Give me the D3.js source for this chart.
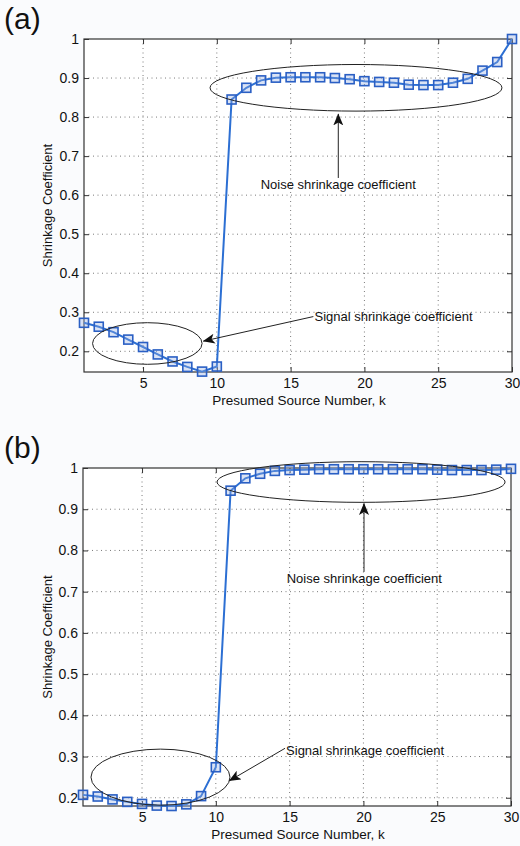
<!DOCTYPE html>
<html>
<head>
<meta charset="utf-8">
<script src="https://cdn.jsdelivr.net/npm/d3@7/dist/d3.min.js"></script>
<style>
  html, body { margin: 0; padding: 0; background: #fafbfd; }
  svg { display: block; }
  text { font-family: "Liberation Sans", Arial, Helvetica, sans-serif; fill: #111; }
</style>
</head>
<body>
<svg id="chart" width="520" height="846"></svg>
<script>
// Presumed source number k
const kValues = [1, 2, 3, 4, 5, 6, 7, 8, 9, 10, 11, 12, 13, 14, 15,
                 16, 17, 18, 19, 20, 21, 22, 23, 24, 25, 26, 27, 28, 29, 30];

// Shrinkage coefficients, panel (a)
const coeffA = [0.273, 0.263, 0.249, 0.230, 0.211, 0.192, 0.174, 0.160, 0.148, 0.161,
                0.845, 0.875, 0.894, 0.901, 0.902, 0.902, 0.902, 0.900, 0.897, 0.892,
                0.890, 0.888, 0.883, 0.882, 0.882, 0.888, 0.898, 0.919, 0.941, 1.000];

// Shrinkage coefficients, panel (b)
const coeffB = [0.207, 0.203, 0.196, 0.190, 0.185, 0.181, 0.180, 0.184, 0.204, 0.274,
                0.945, 0.975, 0.986, 0.993, 0.995, 0.996, 0.997, 0.997, 0.997, 0.997,
                0.997, 0.997, 0.997, 0.997, 0.996, 0.995, 0.995, 0.995, 0.996, 0.998];

const xTicks = [5, 10, 15, 20, 25, 30];
const yTicks = [0.2, 0.3, 0.4, 0.5, 0.6, 0.7, 0.8, 0.9, 1];

const panelLabels = ["(a)", "(b)"];
const xAxisTitle = "Presumed Source Number, k";
const yAxisTitle = "Shrinkage Coefficient";
const noiseText = "Noise shrinkage coefficient";
const signalText = "Signal shrinkage coefficient";

const svg = d3.select("#chart");

// arrowhead used by the annotation pointers
svg.append("defs").append("marker")
  .attr("id", "head")
  .attr("viewBox", "0 0 12 10")
  .attr("refX", 11.5).attr("refY", 5)
  .attr("markerWidth", 12).attr("markerHeight", 10)
  .attr("markerUnits", "userSpaceOnUse")
  .attr("orient", "auto")
  .append("path")
  .attr("d", "M0,0 L12,5 L0,10 L3,5 Z")
  .attr("fill", "#111");

function drawPanel(cfg) {
  const { values, left, right, top, bottom, yMin, label, labelY, ann } = cfg;
  const g = svg.append("g");

  const x = d3.scaleLinear().domain([1, 30]).range([left, right]);
  const y = d3.scaleLinear().domain([yMin, 1]).range([bottom, top]);

  // panel tag
  g.append("text").attr("x", 4).attr("y", labelY)
    .attr("font-size", 30).text(label);

  // white plotting area
  g.append("rect").attr("x", left).attr("y", top)
    .attr("width", right - left).attr("height", bottom - top)
    .attr("fill", "#ffffff");

  // dotted grid
  const gridStyle = sel => sel.attr("stroke", "#7a7a7a").attr("stroke-width", 1)
    .attr("stroke-dasharray", "1,3.5");
  g.append("g").selectAll("line").data(xTicks.filter(t => t < 30)).join("line")
    .attr("x1", d => x(d)).attr("x2", d => x(d))
    .attr("y1", top).attr("y2", bottom).call(gridStyle);
  g.append("g").selectAll("line").data(yTicks.filter(t => t < 1)).join("line")
    .attr("x1", left).attr("x2", right)
    .attr("y1", d => y(d)).attr("y2", d => y(d)).call(gridStyle);

  // axes with inward ticks
  const axStyle = a => {
    a.attr("font-size", 14).attr("font-family", null);
    a.select(".domain").remove();
    a.selectAll(".tick line").attr("stroke", "#333");
    a.selectAll(".tick text").attr("font-size", 14).attr("fill", "#111");
  };
  g.append("g").attr("transform", `translate(0,${bottom})`)
    .call(d3.axisBottom(x).tickValues(xTicks).tickSizeInner(-5).tickSizeOuter(0).tickPadding(6))
    .call(axStyle);
  g.append("g").attr("transform", `translate(0,${top})`)
    .call(d3.axisTop(x).tickValues(xTicks).tickSizeInner(-5).tickSizeOuter(0).tickFormat(""))
    .call(axStyle);
  g.append("g").attr("transform", `translate(${left},0)`)
    .call(d3.axisLeft(y).tickValues(yTicks).tickSizeInner(-5).tickSizeOuter(0).tickPadding(5)
      .tickFormat(d => d === 1 ? "1" : d3.format(".1f")(d)))
    .call(axStyle);
  g.append("g").attr("transform", `translate(${right},0)`)
    .call(d3.axisRight(y).tickValues(yTicks).tickSizeInner(-5).tickSizeOuter(0).tickFormat(""))
    .call(axStyle);

  // frame
  g.append("rect").attr("x", left).attr("y", top)
    .attr("width", right - left).attr("height", bottom - top)
    .attr("fill", "none").attr("stroke", "#333").attr("stroke-width", 1.2);

  // axis titles
  g.append("text").attr("x", (left + right) / 2 + 1).attr("y", bottom + 33)
    .attr("text-anchor", "middle").attr("font-size", 13.5).text(xAxisTitle);
  g.append("text")
    .attr("transform", `translate(52,${(top + bottom) / 2}) rotate(-90)`)
    .attr("text-anchor", "middle").attr("font-size", 13).text(yAxisTitle);

  // data series
  const pts = kValues.map((k, i) => [k, values[i]]);
  g.append("path").datum(pts)
    .attr("fill", "none").attr("stroke", "#2c6fd3").attr("stroke-width", 2)
    .attr("d", d3.line().x(d => x(d[0])).y(d => y(d[1])));
  g.append("g").selectAll("rect").data(pts).join("rect")
    .attr("x", d => x(d[0]) - 4.5).attr("y", d => y(d[1]) - 4.5)
    .attr("width", 9).attr("height", 9)
    .attr("fill", "rgba(150,175,225,0.35)")
    .attr("stroke", "#2a5fc4").attr("stroke-width", 1.6);

  // annotation ellipses
  ann.ellipses.forEach(e => {
    g.append("ellipse")
      .attr("cx", x(e.cx)).attr("cy", y(e.cy))
      .attr("rx", Math.abs(x(e.cx + e.rx) - x(e.cx)))
      .attr("ry", Math.abs(y(e.cy + e.ry) - y(e.cy)))
      .attr("fill", "none").attr("stroke", "#222").attr("stroke-width", 1);
  });

  // annotation arrows
  ann.arrows.forEach(a => {
    g.append("line")
      .attr("x1", x(a.from[0])).attr("y1", y(a.from[1]))
      .attr("x2", x(a.to[0])).attr("y2", y(a.to[1]))
      .attr("stroke", "#222").attr("stroke-width", 1)
      .attr("marker-end", "url(#head)");
  });

  // annotation texts
  ann.texts.forEach(t => {
    g.append("text").attr("x", x(t.at[0])).attr("y", y(t.at[1]))
      .attr("text-anchor", t.anchor).attr("font-size", 13).text(t.text);
  });
}

drawPanel({
  values: coeffA, left: 84, right: 512, top: 39, bottom: 372, yMin: 0.147,
  label: panelLabels[0], labelY: 29,
  ann: {
    ellipses: [
      { cx: 19.43, cy: 0.875, rx: 9.89, ry: 0.0597 },
      { cx: 5.29, cy: 0.220, rx: 3.71, ry: 0.0533 }
    ],
    arrows: [
      { from: [18.23, 0.644], to: [18.23, 0.808] },
      { from: [16.54, 0.289], to: [9.08, 0.226] }
    ],
    texts: [
      { at: [18.23, 0.616], anchor: "middle", text: noiseText },
      { at: [16.62, 0.278], anchor: "start", text: signalText }
    ]
  }
});

drawPanel({
  values: coeffB, left: 83, right: 511, top: 468, bottom: 806, yMin: 0.18,
  label: panelLabels[1], labelY: 458,
  ann: {
    ellipses: [
      { cx: 19.84, cy: 0.966, rx: 9.76, ry: 0.0493 },
      { cx: 6.25, cy: 0.250, rx: 4.71, ry: 0.068 }
    ],
    arrows: [
      { from: [20.04, 0.748], to: [20.04, 0.914] },
      { from: [14.69, 0.320], to: [10.91, 0.241] }
    ],
    texts: [
      { at: [20.06, 0.721], anchor: "middle", text: noiseText },
      { at: [14.76, 0.304], anchor: "start", text: signalText }
    ]
  }
});
</script>
</body>
</html>
